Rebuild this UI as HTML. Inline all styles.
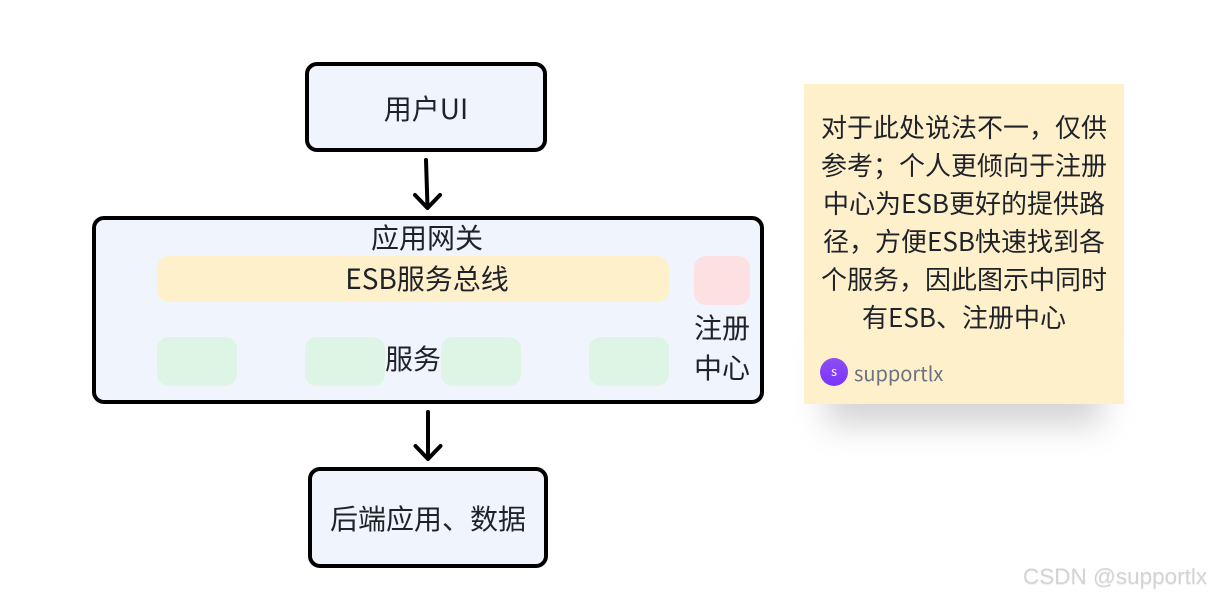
<!DOCTYPE html>
<html lang="zh">
<head>
<meta charset="utf-8">
<style>
html,body{margin:0;padding:0;background:#fff}
#p{position:relative;width:1210px;height:596px;overflow:hidden;background:#fff;font-family:"Noto Sans CJK SC","Liberation Sans",sans-serif;color:#1f2329}
.b{position:absolute;box-sizing:border-box;background:#f0f4fd;border:4px solid #000;border-radius:12px}
.r{position:absolute;border-radius:12px}
.t{position:absolute;font-size:28px;line-height:40px;white-space:nowrap;text-align:center;transform:translateX(-50%)}
.g{background:#def5e5}
#card{position:absolute;left:804px;top:84px;width:320px;height:320px;background:#fff0cc}
#sh{position:absolute;left:826px;top:345px;width:276px;height:80px;background:rgba(0,0,0,.17);filter:blur(16px)}
#cardt{position:absolute;left:0;top:24px;width:320px;font-size:26px;line-height:38px;text-align:center;white-space:nowrap}
#av{position:absolute;left:16px;top:274px;width:28px;height:28px;border-radius:50%;background:linear-gradient(180deg,#8e4ff0,#7a33ff);color:#fff;font-size:13px;line-height:25px;text-align:center}
#un{position:absolute;left:50px;top:273px;font-size:20px;line-height:32px;color:#6b7380}
#wm{position:absolute;left:1023px;top:563px;font-family:"Liberation Sans",sans-serif;font-size:22.5px;line-height:28px;color:#d4d4d4;white-space:nowrap;text-shadow:0 1px 1px #eee}
svg{position:absolute;left:0;top:0}
</style>
</head>
<body>
<div id="p">
<div class="b" style="left:305px;top:62px;width:242px;height:90px"></div>
<div class="t" style="left:426px;top:88px">用户UI</div>

<div class="b" style="left:92px;top:216px;width:672px;height:188px"></div>
<div class="t" style="left:427px;top:217px">应用网关</div>
<div class="r" style="left:157px;top:256px;width:512px;height:46px;background:#fff0cc"></div>
<div class="t" style="left:427px;top:258px">ESB服务总线</div>
<div class="r" style="left:694px;top:256px;width:56px;height:49px;background:#fde0e2"></div>
<div class="t" style="left:722px;top:307px">注册<br>中心</div>
<div class="r g" style="left:157px;top:337px;width:80px;height:49px"></div>
<div class="r g" style="left:305px;top:337px;width:80px;height:49px"></div>
<div class="r g" style="left:441px;top:337px;width:80px;height:49px"></div>
<div class="r g" style="left:589px;top:337px;width:80px;height:49px"></div>
<div class="t" style="left:413px;top:338px">服务</div>

<div class="b" style="left:308px;top:467px;width:240px;height:101px"></div>
<div class="t" style="left:428px;top:498px">后端应用、数据</div>

<svg width="1210" height="596" viewBox="0 0 1210 596" fill="none" stroke="#000" stroke-width="4" stroke-linecap="round" stroke-linejoin="round">
<path d="M426 160L427.500 207"/>
<path d="M415 195L427.500 208L440 195"/>
<path d="M428 412L428 458"/>
<path d="M415.500 446L428 459L440.500 446"/>
</svg>

<div id="sh"></div>
<div id="card">
<div id="cardt">对于此处说法不一，仅供<br>参考；个人更倾向于注册<br>中心为ESB更好的提供路<br>径，方便ESB快速找到各<br>个服务，因此图示中同时<br>有ESB、注册中心</div>
<div id="av">s</div>
<div id="un">supportlx</div>
</div>
<div id="wm">CSDN @supportlx</div>
</div>
</body>
</html>
